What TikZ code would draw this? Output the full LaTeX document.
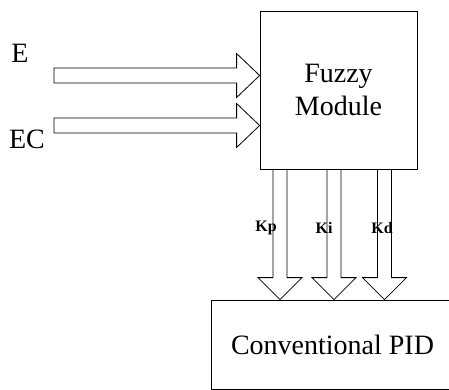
\documentclass[tikz,border=0pt]{standalone}
\usepackage{fontspec}
\setmainfont{Liberation Serif}
\usepackage{tikz}
\usetikzlibrary{calc,positioning}

% hollow block arrows, tail to tip
\newcommand\rightblock[2]{%
  \draw[blockarrow] ($(#1)+(0,-7.5)$) -- ($(#2)+(-23,-7.5)$) -- ($(#2)+(-23,-22)$)
    -- (#2) -- ($(#2)+(-23,22)$) -- ($(#2)+(-23,7.5)$) -- ($(#1)+(0,7.5)$) -- cycle;}
\newcommand\downblock[2]{%
  \draw[blockarrow] ($(#1)+(-7,0)$) -- ($(#2)+(-7,-22)$) -- ($(#2)+(-22,-22)$)
    -- (#2) -- ($(#2)+(22,-22)$) -- ($(#2)+(7,-22)$) -- ($(#1)+(7,0)$) -- cycle;}

\begin{document}
\begin{tikzpicture}[
  x=1pt, y=-1pt,
  block/.style={rectangle, draw, line width=0.8pt, align=center,
    font=\fontsize{28}{33}\selectfont},
  blockarrow/.style={draw, line width=0.8pt, fill=white, line join=miter},
  sig/.style={font=\fontsize{28}{33}\selectfont},
  gain/.style={font=\fontsize{16}{18}\selectfont\bfseries, inner sep=0pt}
]
  \clip (0,0) rectangle (449,390);

  \node[block, minimum width=157pt, minimum height=158pt] (fuzzy) at (338.5,90) {Fuzzy\\Module};
  \node[block, minimum width=243pt, minimum height=89pt] (pid) at (332.5,344.5) {Conventional PID};

  \node[sig] (e) at (20,53) {E};
  \node[sig] (ec) at (27,139.5) {EC};

  % inputs
  \coordinate (eTail) at (54,75.5);
  \coordinate (eTip) at (fuzzy.west |- eTail);
  \coordinate (ecTail) at (54,125.5);
  \coordinate (ecTip) at (fuzzy.west |- ecTail);
  \rightblock{eTail}{eTip}
  \rightblock{ecTail}{ecTip}

  % gains
  \coordinate (kpTail) at (280,0 |- fuzzy.south);
  \coordinate (kpTip) at (kpTail |- pid.north);
  \coordinate (kiTail) at (334,0 |- fuzzy.south);
  \coordinate (kiTip) at (kiTail |- pid.north);
  \coordinate (kdTail) at (384.5,0 |- fuzzy.south);
  \coordinate (kdTip) at (kdTail |- pid.north);
  \downblock{kpTail}{kpTip}
  \downblock{kiTail}{kiTip}
  \downblock{kdTail}{kdTip}

  \node[gain] (kp) at (266,228) {Kp};
  \node[gain] (ki) at (324,228) {Ki};
  \node[gain] (kd) at (382,228) {Kd};
\end{tikzpicture}
\end{document}
